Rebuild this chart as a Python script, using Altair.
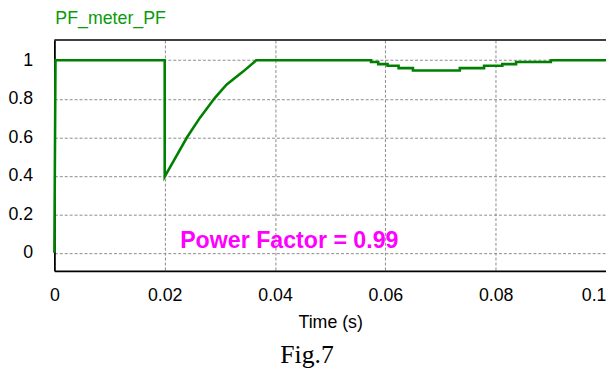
import altair as alt
import pandas as pd

# ---- data ----
pf_time = [0.0, 0.0002, 0.02, 0.02, 0.0217, 0.02405, 0.0264, 0.0291, 0.0312, 0.0342, 0.0366,
           0.0574, 0.0574, 0.0587, 0.0587, 0.0604, 0.0604, 0.0624, 0.0624, 0.065, 0.065,
           0.0735, 0.0735, 0.0779, 0.0779, 0.0812, 0.0812, 0.0837, 0.0837, 0.09, 0.09, 0.1]
pf_value = [0.0, 1.0, 1.0, 0.395, 0.481, 0.6, 0.702, 0.805, 0.873, 0.941, 1.0,
            1.0, 0.991, 0.991, 0.98, 0.98, 0.971, 0.971, 0.959, 0.959, 0.947,
            0.947, 0.959, 0.959, 0.971, 0.971, 0.98, 0.98, 0.991, 0.991, 1.0, 1.0]

x_ticks = [0, 0.02, 0.04, 0.06, 0.08, 0.1]
y_ticks = [0, 0.2, 0.4, 0.6, 0.8, 1]

signal_title = ["PF_meter_PF"]
note_text = ["Power Factor = 0.99"]
note_x = [0.0228]
note_y = [0.024]
caption = ["Fig.7"]

df = pd.DataFrame({"t": pf_time, "pf": pf_value})

W, H = 559, 234
GREEN = "#008000"

x_scale = alt.Scale(domain=[0, 0.1], nice=False, zero=False)
y_scale = alt.Scale(domain=[-0.094, 1.105], nice=False, zero=False)

x_axis = alt.Axis(
    values=x_ticks, format="~g", title="Time (s)", grid=True, ticks=False, tickSize=0,
    labelFont="Liberation Sans", labelFontSize=18, labelColor="#000000", labelPadding=16,
    labelAlign={"condition": {"test": "datum.value >= 0.099", "value": "right"}, "value": "center"},
    titleFont="Liberation Sans", titleFontSize=18, titleFontWeight="normal",
    titleColor="#000000", titlePadding=9,
    domainColor="#000000", domainWidth=1.8,
    gridColor="#8a8a8a", gridDash=[3, 2], gridWidth=1,
)
y_axis = alt.Axis(
    values=y_ticks, format="~g", title=None, grid=True, ticks=False, tickSize=0,
    labelFont="Liberation Sans", labelFontSize=18, labelColor="#000000", labelPadding=22,
    domainColor="#000000", domainWidth=1.8,
    gridColor="#8a8a8a", gridDash=[3, 2], gridWidth=1,
)

line = alt.Chart(df).mark_line(color=GREEN, strokeWidth=2.6, interpolate="linear").encode(
    x=alt.X("t:Q", scale=x_scale, axis=x_axis),
    y=alt.Y("pf:Q", scale=y_scale, axis=y_axis),
)

top_border = alt.Chart(alt.Data(values=[{}])).mark_rule(color="#000000", strokeWidth=1.6).encode(
    x=alt.value(0), x2=alt.value(W), y=alt.value(0)
)

title_txt = alt.Chart(pd.DataFrame({"s": signal_title})).mark_text(
    font="Liberation Sans", fontSize=18, color="#0a9a0a", align="left", baseline="alphabetic"
).encode(x=alt.value(1), y=alt.value(-16), text="s:N")

note = alt.Chart(pd.DataFrame({"s": note_text, "x": note_x, "y": note_y})).mark_text(
    font="Liberation Sans", fontSize=23.5, fontWeight="bold", color="#ff00ff",
    align="left", baseline="alphabetic"
).encode(x=alt.X("x:Q", scale=x_scale), y=alt.Y("y:Q", scale=y_scale), text="s:N")

cap = alt.Chart(pd.DataFrame({"s": caption})).mark_text(
    font="Liberation Serif", fontSize=26, color="#000000", align="center", baseline="alphabetic"
).encode(x=alt.value(256), y=alt.value(327), text="s:N")

chart = alt.layer(line, top_border, title_txt, note, cap).properties(
    width=W, height=H,
    autosize=alt.AutoSizeParams(type="none"),
    padding={"left": 47, "top": 30, "right": 0, "bottom": 102},
    background="#ffffff",
).configure_view(stroke=None)

chart.save("out.html", embed_options={"renderer": "svg", "actions": False})
